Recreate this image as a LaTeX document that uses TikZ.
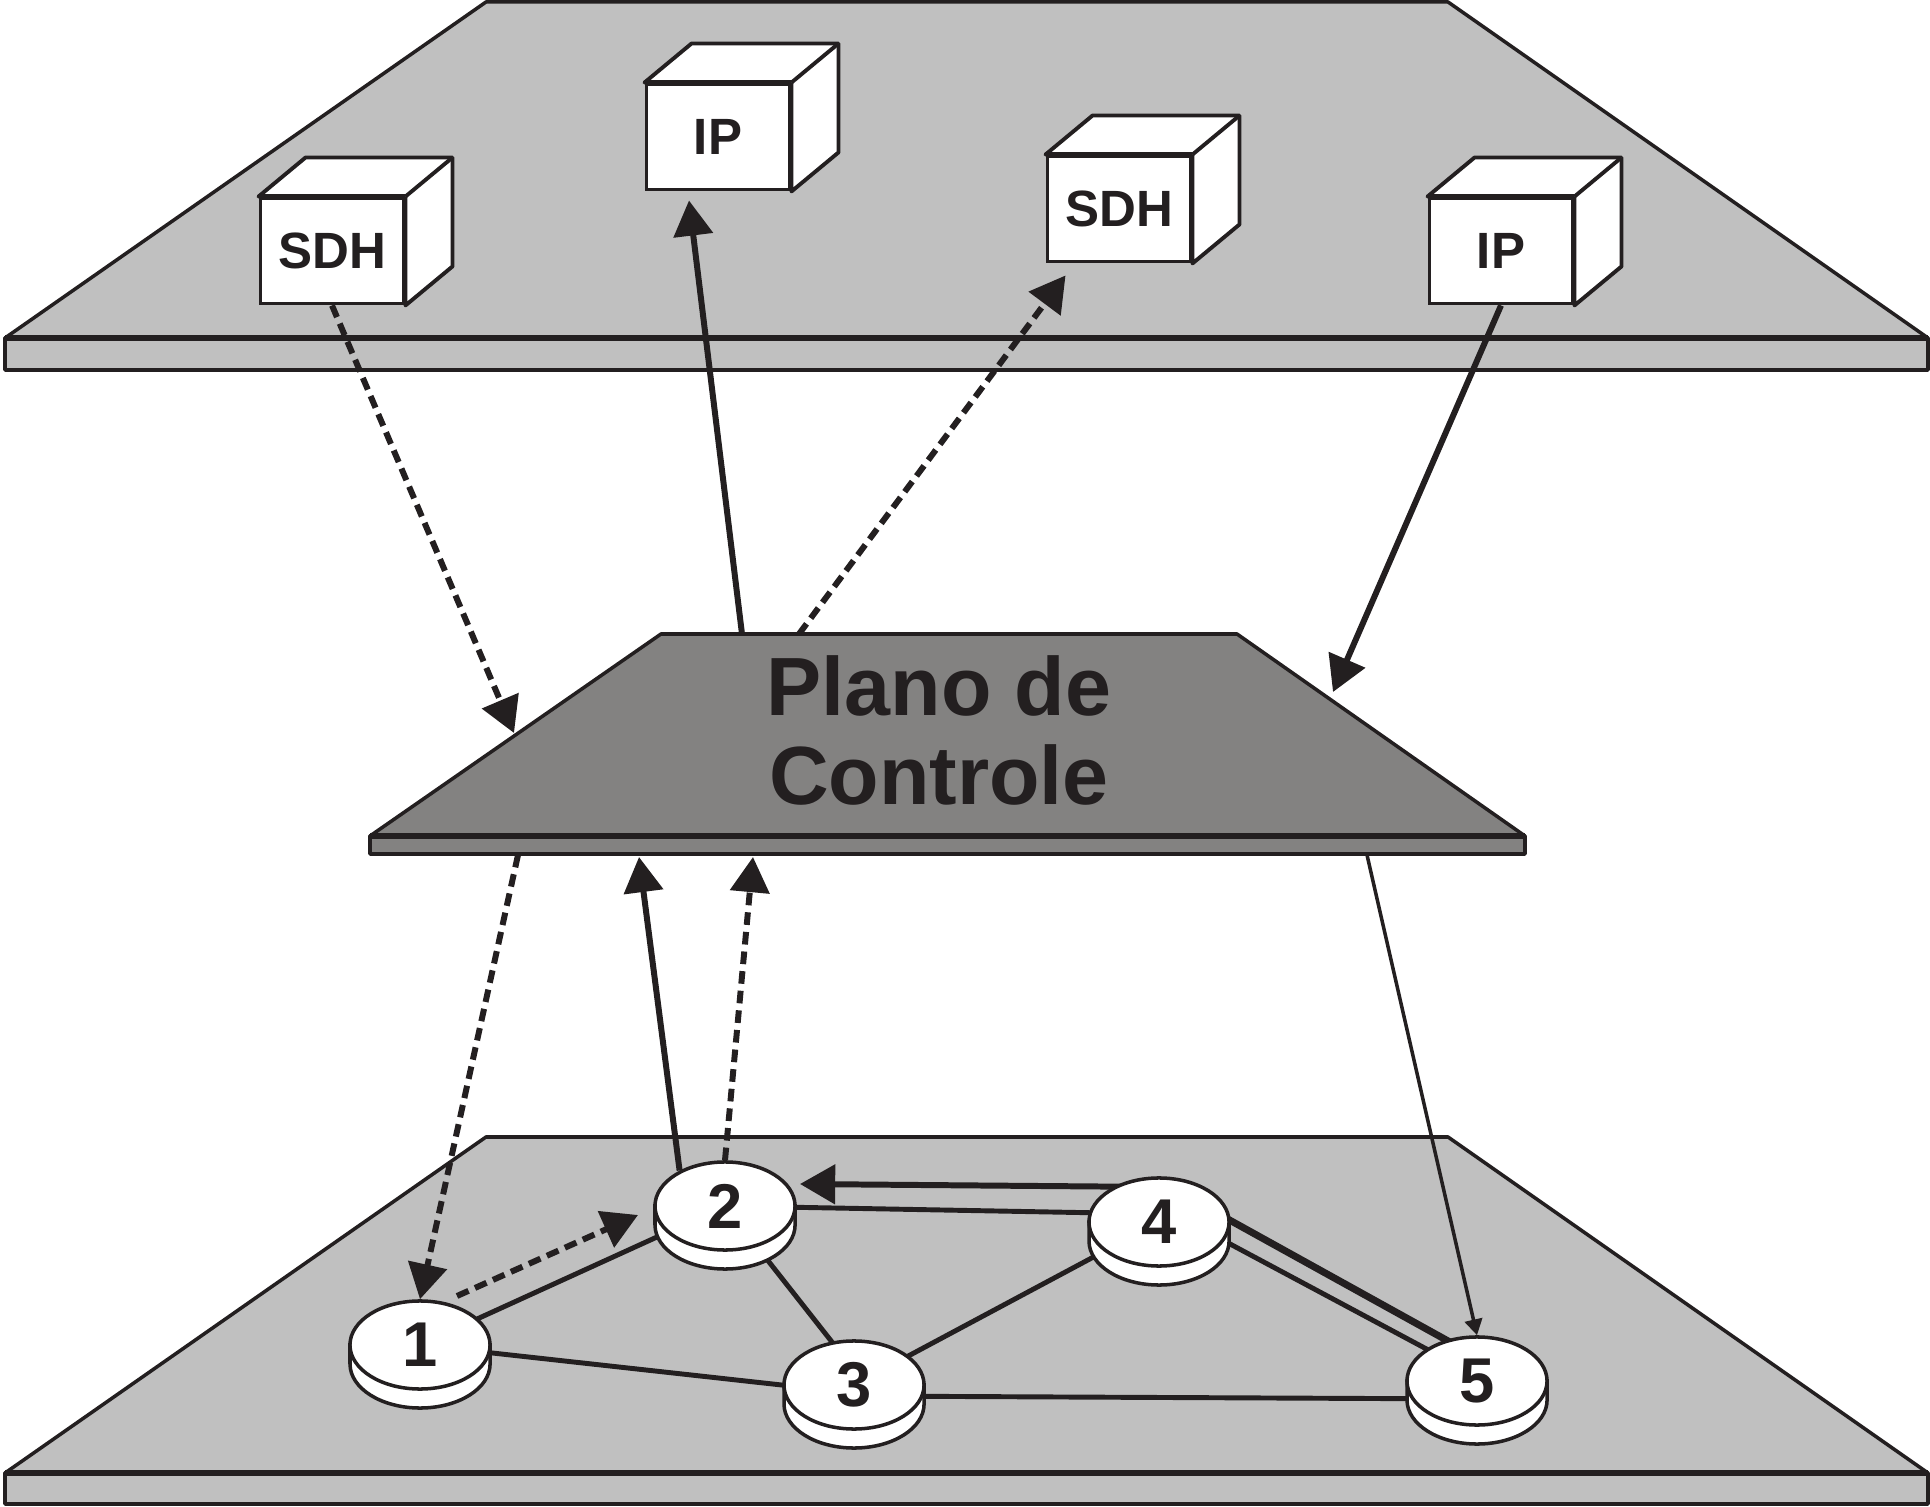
\documentclass[tikz,border=0pt]{standalone}
\usepackage{fontspec}
\setmainfont{Liberation Sans}
\usepackage{tikz}
\usetikzlibrary{arrows.meta, calc, shapes.geometric}
\definecolor{ink}{HTML}{231F20}
\definecolor{planegray}{HTML}{C0C0C0}
\definecolor{ctrlgray}{HTML}{838281}

\begin{document}
\begin{tikzpicture}[
        x=0.01cm, y=-0.01cm,
        >={Triangle[length=10pt, width=11pt]},
        plane/.style={draw=ink, line width=1pt, fill=planegray, line join=round},
        ctrlplane/.style={plane, fill=ctrlgray},
        cube/.style={draw=ink, line width=1.1pt, fill=white, minimum width=1.43cm, minimum height=1.05cm, inner sep=0pt, font=\fontsize{14.5}{16}\selectfont\bfseries, text=ink},
        cubeside/.style={draw=ink, line width=1.1pt, fill=white, line join=round},
        disc/.style={ellipse, draw=ink, line width=1pt, fill=white, minimum width=1.4cm, minimum height=0.88cm, inner sep=0pt, font=\fontsize{18}{20}\selectfont\bfseries, text=ink},
        rim/.style={draw=ink, line width=1pt, fill=white},
        link/.style={draw=ink, line width=1.4pt},
        flow/.style={->, color=ink, line width=1.7pt},
        signal/.style={flow, dash pattern=on 3.6pt off 2pt}
    ]
    \useasboundingbox (0,0) rectangle (1930,1507);

    \draw[plane] (486,2) -- (1448,2) -- (1928,338) -- (5,338) -- cycle;
    \draw[plane] (5,338) rectangle (1928,370);
    \draw[plane] (486,1137) -- (1448,1137) -- (1928,1473) -- (5,1473) -- cycle;
    \draw[plane] (5,1473) rectangle (1928,1504);
    \draw[ctrlplane] (661,634) -- (1237,634) -- (1525,836) -- (370,836) -- cycle;
    \draw[ctrlplane] (370,836) rectangle (1525,854);
    \draw[ink, line width=1.5pt] (5,338) -- (1928,338) (5,1473) -- (1928,1473) (370,836) -- (1525,836);

    \node[font=\fontsize{23.5}{25.3}\selectfont\bfseries, text=ink, align=center] (ctl) at (939,730) {Plano de\\Controle};

    \node[cube] (sdhA) at (332,251) {SDH};
    \node[cube] (ipA) at (718,137) {IP};
    \node[cube] (sdhB) at (1119,209) {SDH};
    \node[cube] (ipB) at (1501,251) {IP};
    \foreach \cu in {sdhA, ipA, sdhB, ipB} {
        \draw[cubeside] (\cu.north west) -- ++(47,-39) -- ($(\cu.north east)+(47,-39)$) -- ($(\cu.south east)+(47,-39)$) -- (\cu.south east) -- (\cu.north east) -- cycle;
        \draw[cubeside] (\cu.north east) -- ++(47,-39);
        \draw[ink, line width=1.6pt] (\cu.north west) -- (\cu.north east);
    }

    \coordinate (cpA) at (514,733);
    \coordinate (cpB) at (742,634);
    \coordinate (cpC) at (799,634);
    \coordinate (cpD) at (1333,692);
    \coordinate (cpE) at (518,855);
    \coordinate (cpF) at (639,857);
    \coordinate (cpG) at (753,857);
    \coordinate (cpH) at (1367,855);

    \coordinate (n1) at (420,1345);
    \coordinate (n2) at (725,1206);
    \coordinate (n3) at (854,1385);
    \coordinate (n4) at (1159,1222);
    \coordinate (n5) at (1477,1381);

    \draw[link] (n1) -- (n2);
    \draw[link] (n1) -- ($(n3)+(0,8)$);
    \draw[link] (n2) -- ($(n3)+(0,-15)$);
    \draw[link] (n2) -- ($(n4)+(0,-8)$);
    \draw[link] (n3) -- (n4);
    \draw[link] ($(n3)+(0,11)$) -- ($(n5)+(0,18)$);
    \draw[link, line width=2pt] ($(n4)+(0,-41)$) -- ($(n5)+(0,-24)$);
    \draw[link] ($(n4)+(0,-16)$) -- ($(n5)+(0,-5)$);
    \draw[flow] ($(n4)+(0,-35)$) -- ($(n2)+(75,-22)$);

    \foreach \n in {1,...,5} {
        \draw[rim] ($(n\n)+(-70,0)$) -- ++(0,19) arc[start angle=180, end angle=360, x radius=0.7cm, y radius=0.44cm] -- ++(0,-19) -- cycle;
        \node[disc] (d\n) at (n\n) {\n};
    }

    \draw[signal] (sdhA.south) -- (cpA);
    \draw[flow] (cpB) -- ($(ipA.south)+(-29,9)$);
    \draw[signal] (cpC) -- ($(sdhB.south west)+(20,12)$);
    \draw[flow] (ipB.south) -- (cpD);
    \draw[signal] (cpE) -- (d1.north);
    \draw[flow] (d2.142) -- (cpF);
    \draw[signal] (d2.north) -- (cpG);
    \draw[flow, line width=1pt, -{Triangle[length=4.5pt, width=5pt]}] (cpH) -- (d5.north);
    \draw[signal] ($(d1.center)+(37,-49)$) -- ($(d2.center)+(-87,9)$);
\end{tikzpicture}
\end{document}
